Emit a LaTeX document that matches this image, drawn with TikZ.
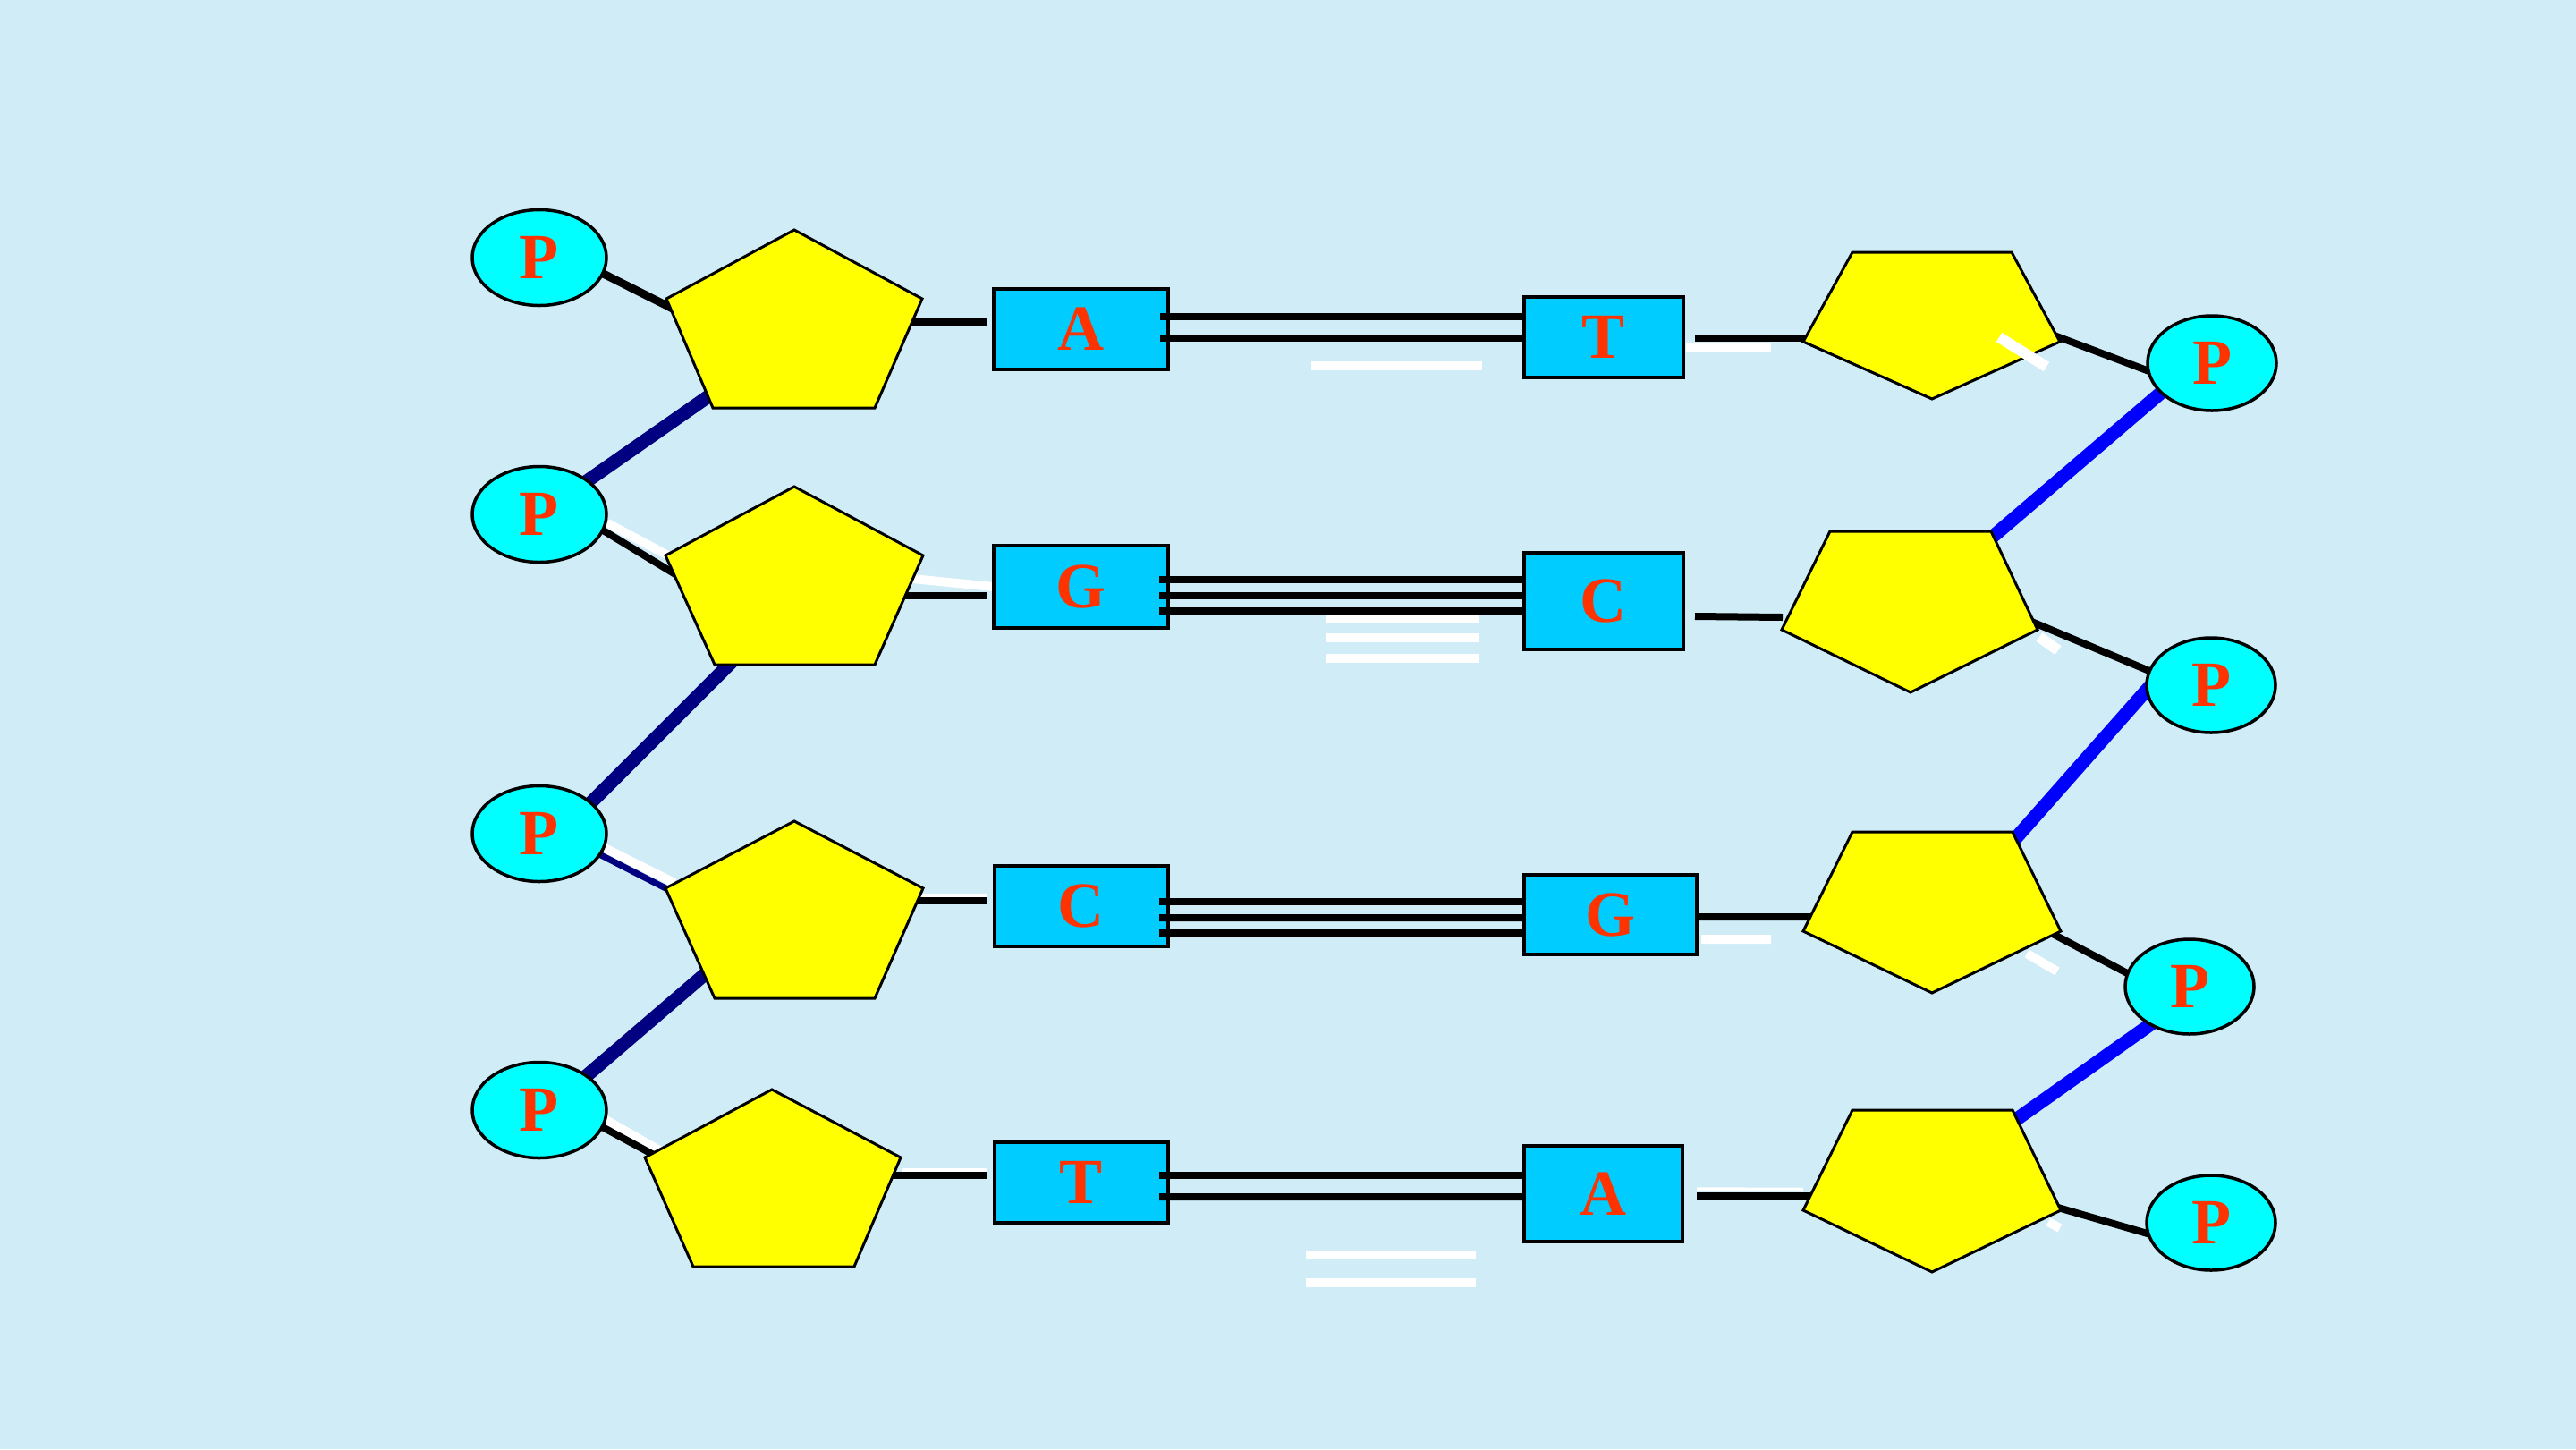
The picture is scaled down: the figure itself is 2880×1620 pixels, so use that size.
\documentclass[tikz,border=0pt]{standalone}
\usepackage{fontspec}
\setmainfont{Liberation Serif}
\usetikzlibrary{shapes.geometric,calc}
\pgfdeclarelayer{back}\pgfdeclarelayer{bg}\pgfdeclarelayer{fg}
\pgfsetlayers{back,bg,main,fg}
\definecolor{bgc}{RGB}{208,236,246}
\definecolor{boxc}{RGB}{0,204,255}
\definecolor{letc}{RGB}{255,51,0}
\definecolor{navyc}{RGB}{0,0,128}
\definecolor{cyanc}{RGB}{0,255,255}
\definecolor{yel}{RGB}{255,255,0}
\definecolor{bluec}{RGB}{0,0,255}
\tikzset{
  sugar/.style={fill=yel,draw=black,line width=0.3mm,line join=miter},
  phos/.style={ellipse,fill=cyanc,draw=black,line width=0.35mm,inner sep=0pt,outer sep=0pt,
     minimum width=15mm,minimum height=10.7mm,text=letc,font=\fontsize{20.5}{24}\selectfont\bfseries},
  phosr/.style={phos,minimum width=14.4mm,minimum height=10.6mm},
  base/.style={rectangle,fill=boxc,draw=black,line width=0.35mm,inner sep=0pt,outer sep=0pt,
     text=letc,font=\fontsize{20.5}{24}\selectfont\bfseries},
  blk/.style={line width=0.8mm,draw=black},
  hb/.style={line width=0.8mm,draw=black},
  navybb/.style={line width=1.5mm,draw=navyc},
  navythin/.style={line width=0.7mm,draw=navyc},
  bluebb/.style={line width=1.5mm,draw=bluec},
  shade/.style={line width=1mm,draw=white},
  shadethin/.style={line width=0.45mm,draw=white},
  ext/.style={shorten <=-1.2mm},
  exte/.style={shorten >=-1.2mm}
}
\begin{document}
\begin{tikzpicture}[x=0.1mm,y=-0.1mm]
\begin{pgfonlayer}{back}
\fill[bgc] (0,0) rectangle (2880,1620);
\end{pgfonlayer}
\useasboundingbox (0,0) rectangle (2880,1620);

% ---------- phosphates ----------
\node[phos] (P1) at (603,288) {P};
\node[phos] (P2) at (603,575) {P};
\node[phos] (P3) at (603,932) {P};
\node[phos] (P4) at (603,1241) {P};
\node[phosr] (RP1) at (2473,406) {P};
\node[phosr] (RP2) at (2472,766) {P};
\node[phosr] (RP3) at (2448,1103) {P};
\node[phosr] (RP4) at (2472,1367) {P};

% ---------- bases ----------
\node[base,minimum width=19.5mm,minimum height=9mm]   (bA)  at (1208.5,368)  {A};
\node[base,minimum width=19.5mm,minimum height=9.2mm] (bG)  at (1208.5,656)  {G};
\node[base,minimum width=19.4mm,minimum height=9mm]   (bC)  at (1209,1013)   {C};
\node[base,minimum width=19.4mm,minimum height=9mm]   (bT)  at (1209,1322)   {T};
\node[base,minimum width=17.8mm,minimum height=9mm]   (bT2) at (1793,377)    {T};
\node[base,minimum width=17.8mm,minimum height=10.8mm](bC2) at (1793,672)    {C};
\node[base,minimum width=19.3mm,minimum height=8.9mm] (bG2) at (1800.5,1022.5) {G};
\node[base,minimum width=17.7mm,minimum height=10.7mm](bA2) at (1792.5,1334.5) {A};

% ---------- sugar vertices ----------
% left (apex up)
\coordinate (L1t) at (888,257);  \coordinate (L1r) at (1031,334); \coordinate (L1br) at (978,456);
\coordinate (L1bl) at (797,456); \coordinate (L1l) at (745,334);
\coordinate (L2t) at (888,544);  \coordinate (L2r) at (1032,621); \coordinate (L2br) at (978,743);
\coordinate (L2bl) at (799,743); \coordinate (L2l) at (744,621);
\coordinate (L3t) at (888,918);  \coordinate (L3r) at (1032,993); \coordinate (L3br) at (978,1116);
\coordinate (L3bl) at (799,1116);\coordinate (L3l) at (744,993);
\coordinate (L4t) at (863,1218); \coordinate (L4r) at (1007,1294);\coordinate (L4br) at (955,1416);
\coordinate (L4bl) at (775,1416);\coordinate (L4l) at (721,1294);
% right (apex down)
\coordinate (R1tl) at (2071,282); \coordinate (R1tr) at (2249,282); \coordinate (R1r) at (2303,382);
\coordinate (R1b) at (2160,446);  \coordinate (R1l) at (2016,382);
\coordinate (R2tl) at (2046,594); \coordinate (R2tr) at (2226,594); \coordinate (R2r) at (2278,704);
\coordinate (R2b) at (2136,774);  \coordinate (R2l) at (1992,704);
\coordinate (R3tl) at (2071,930); \coordinate (R3tr) at (2250,930); \coordinate (R3r) at (2304,1041);
\coordinate (R3b) at (2160,1110); \coordinate (R3l) at (2016,1041);
\coordinate (R4tl) at (2071,1241);\coordinate (R4tr) at (2250,1241);\coordinate (R4r) at (2304,1353);
\coordinate (R4b) at (2160,1422); \coordinate (R4l) at (2016,1353);

\foreach \s in {L1,L2,L3,L4}{
  \draw[sugar] (\s t) -- (\s r) -- (\s br) -- (\s bl) -- (\s l) -- cycle;
}
\foreach \s in {R1,R2,R3,R4}{
  \draw[sugar] (\s tl) -- (\s tr) -- (\s r) -- (\s b) -- (\s l) -- cycle;
}

% ---------- connectors (behind shapes) ----------
\begin{pgfonlayer}{bg}
% white offsets
\draw[shade] (1466,409) -- (1657,409);
\draw[shade] ($(bT2.east)+(3,12)$) -- (1980,389);
\draw[shade] (1020,647) -- (bG.west);
\draw[shade] (1482,692) -- (1654,692);
\draw[shade] (1482,713) -- (1654,713);
\draw[shade] (1482,736) -- (1654,736);
\draw[shade] ($(P2.-14)+(5,-8)$) -- ($(L2l)+(14,6)$);
\draw[shade] ($(P3.-19)+(4,-8)$) -- ($(L3l)+(10,-6)$);
\draw[shade] ($(P4.-15)+(4,-8)$) -- ($(L4l)+(16,-8)$);
\draw[shadethin] (1027,1001) -- ($(bC.west)+(-8,-12)$);
\draw[shadethin] (1009,1308) -- ($(bT.west)+(-9,-14)$);
\draw[shade] ($(bG2.east)+(5,27.5)$) -- (1980,1050);
\draw[shade] (1460,1403) -- (1650,1403);
\draw[shade] (1460,1434) -- (1650,1434);
\draw[shadethin] ($(bA2.east)+(16,-5)$) -- ($(R4l)+(0,-23)$);

% left phosphate -- sugar
\draw[blk,line width=0.9mm] (P1.-14) -- ($(L1l)+(15,15)$);
\draw[blk] (P2.-14) -- ($(L2l)+(11,21)$);
\draw[navythin] (P3.-19) -- ($(L3l)+(8,4)$);
\draw[blk] (P4.-15) -- ($(L4l)+(19,2)$);
% left backbone
\draw[navybb,ext] (P2) -- ($(L1bl)+(8,-22)$);
\draw[navybb,ext] (P3.31) -- ($(L2bl)+(26,-10)$);
\draw[navybb,ext] (P4.36) -- ($(L3bl)+(2,-38)$);
% right backbone
\draw[bluebb,ext] (RP1.-150) -- ($(R2tr)+(-4,11)$);
\draw[bluebb,ext] (RP2.184) -- ($(R3tr)+(-6,18)$);
\draw[bluebb,ext] (RP3.224) -- ($(R4tr)+(-5,17)$);
% right sugar -- phosphate
\draw[blk,exte] ($(R1r)+(-9,-8)$) -- (RP1.187);
\draw[blk,exte] ($(R2r)+(-9,-10)$) -- (RP2.167);
\draw[blk,exte] ($(R3r)+(-9,3)$) -- (RP3.168);
\draw[blk,exte] ($(R4r)+(-10,-5)$) -- (RP4.190);
% sugar -- base (left)
\draw[blk] ($(L1r)+(-21,26)$) -- ($(bA.west)+(-8,-8)$);
\draw[blk] ($(L2r)+(-27,45)$) -- ($(bG.west)+(-7,10)$);
\draw[blk] ($(L3r)+(-16,14)$) -- ($(bC.west)+(-8,-6)$);
\draw[blk] ($(L4r)+(-12,20)$) -- ($(bT.west)+(-9,-8)$);
% base -- sugar (right)
\draw[blk] ($(bT2.east)+(13,1)$) -- ($(R1l)+(12,-4)$);
\draw[blk] ($(bC2.east)+(13,17)$) -- ($(R2l)+(1,-14)$);
\draw[blk] ($(bG2.east)+(0,2.5)$) -- ($(R3l)+(19,-16)$);
\draw[blk] ($(bA2.east)+(16,2.5)$) -- ($(R4l)+(19,-16)$);
\end{pgfonlayer}

% ---------- hydrogen bonds (over box edges) ----------
\draw[hb] ($(bA.east)+(-9,-14)$) -- ($(bT2.west)+(0,-23)$);
\draw[hb] ($(bA.east)+(-9,10)$)  -- ($(bT2.west)+(0,1)$);
\draw[hb] ($(bG.east)+(-10,-8)$) -- ($(bC2.west)+(0,-24)$);
\draw[hb] ($(bG.east)+(-10,10)$) -- ($(bC2.west)+(0,-6)$);
\draw[hb] ($(bG.east)+(-10,27)$) -- ($(bC2.west)+(0,11)$);
\draw[hb] ($(bC.east)+(-10,-5)$) -- ($(bG2.west)+(0,-14.5)$);
\draw[hb] ($(bC.east)+(-10,13)$) -- ($(bG2.west)+(0,3.5)$);
\draw[hb] ($(bC.east)+(-10,30)$) -- ($(bG2.west)+(0,20.5)$);
\draw[hb] ($(bT.east)+(-10,-8)$) -- ($(bA2.west)+(0,-20.5)$);
\draw[hb] ($(bT.east)+(-10,16)$) -- ($(bA2.west)+(0,3.5)$);

% ---------- white marks over sugars ----------
\begin{pgfonlayer}{fg}
\draw[shade,line width=1.2mm] ($(R1r)+(-68,-5)$) -- ($(R1r)+(-15,28)$);
\draw[shade,line width=1.2mm] ($(R2r)+(2,8)$) -- ($(R2r)+(23,23)$);
\draw[shade] ($(R3r)+(-38,25)$) -- ($(R3r)+(-4,45)$);
\draw[shade] ($(R4r)+(-14,13)$) -- ($(R4r)+(-1,20)$);
\end{pgfonlayer}
\end{tikzpicture}
\end{document}
